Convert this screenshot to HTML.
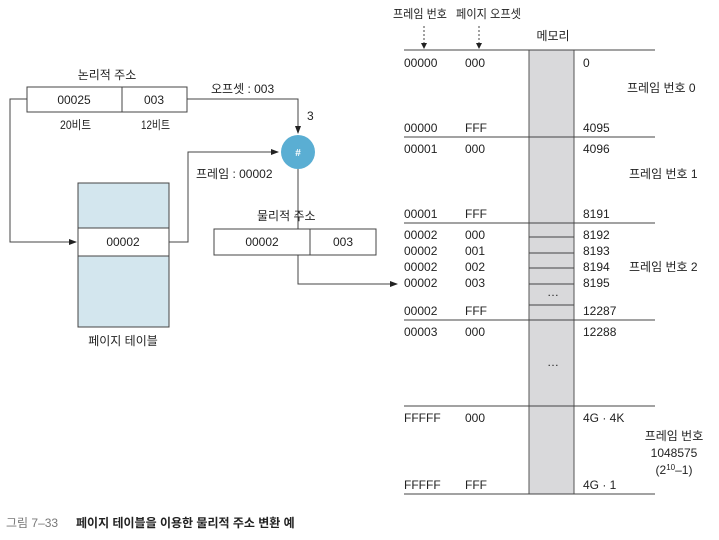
<!DOCTYPE html>
<html><head><meta charset="utf-8"><style>
body{margin:0;background:#fff}
text{font-family:"Liberation Sans","Noto Sans CJK KR",sans-serif;fill:#222;font-size:12px}
</style></head><body>
<svg width="719" height="535" viewBox="0 0 719 535" xmlns="http://www.w3.org/2000/svg">
<defs><marker id="a" markerWidth="8" markerHeight="8" refX="7" refY="4" orient="auto" markerUnits="userSpaceOnUse"><path d="M0,1 L8,4 L0,7 Z" fill="#222"/></marker>
<marker id="s" markerWidth="6" markerHeight="6" refX="5" refY="3" orient="auto" markerUnits="userSpaceOnUse"><path d="M0,0 L6,3 L0,6 Z" fill="#222"/></marker></defs>
<g stroke="#444" stroke-width="1" fill="none">
<rect x="27" y="87" width="160" height="25" fill="#fff"/>
<line x1="122" y1="87" x2="122" y2="112"/>
<rect x="78" y="183" width="91" height="144" fill="#d3e6ee"/>
<rect x="78" y="228" width="91" height="28" fill="#fff"/>
<rect x="214" y="229" width="162" height="26" fill="#fff"/>
<line x1="310" y1="229" x2="310" y2="255"/>
<polyline points="27,99 10,99 10,242 76,242" marker-end="url(#a)"/>
<polyline points="169,242 188,242 188,152 278,152" marker-end="url(#a)"/>
<polyline points="187,99 298,99 298,133" marker-end="url(#a)"/>
<line x1="298" y1="169" x2="298" y2="229"/>
<polyline points="298,255 298,284 397,284" marker-end="url(#a)"/>
<line x1="424" y1="26" x2="424" y2="48" stroke-dasharray="2,2" marker-end="url(#s)"/>
<line x1="479" y1="26" x2="479" y2="48" stroke-dasharray="2,2" marker-end="url(#s)"/>
</g>
<circle cx="298" cy="152" r="17" fill="#5aaed3"/>
<text x="298" y="156" text-anchor="middle" style="fill:#fff;font-size:10px;font-weight:bold">#</text>
<rect x="529" y="50" width="45" height="444" fill="#d9d9db" stroke="#555"/>
<g stroke="#444">
<line x1="404" y1="50" x2="655" y2="50"/>
<line x1="404" y1="137" x2="655" y2="137"/>
<line x1="404" y1="223" x2="655" y2="223"/>
<line x1="404" y1="320" x2="655" y2="320"/>
<line x1="404" y1="406" x2="655" y2="406"/>
<line x1="404" y1="494" x2="655" y2="494"/>
<line x1="529" y1="237" x2="574" y2="237"/>
<line x1="529" y1="253" x2="574" y2="253"/>
<line x1="529" y1="268" x2="574" y2="268"/>
<line x1="529" y1="284" x2="574" y2="284"/>
<line x1="529" y1="305" x2="574" y2="305"/>
</g>
<text x="553" y="296" text-anchor="middle" font-size="10">…</text>
<text x="553" y="366" text-anchor="middle" font-size="10">…</text>
<text x="107" y="79" text-anchor="middle">논리적 주소</text>
<text x="74" y="104" text-anchor="middle">00025</text>
<text x="154" y="104" text-anchor="middle">003</text>
<text x="60" y="129" font-size="10" textLength="31" lengthAdjust="spacingAndGlyphs">20비트</text>
<text x="141" y="129" font-size="10" textLength="29" lengthAdjust="spacingAndGlyphs">12비트</text>
<text x="211" y="93">오프셋 : 003</text>
<text x="307" y="120">3</text>
<text x="196" y="178">프레임 : 00002</text>
<text x="257" y="220">물리적  주소</text>
<text x="262" y="246" text-anchor="middle">00002</text>
<text x="343" y="246" text-anchor="middle">003</text>
<text x="123" y="246" text-anchor="middle">00002</text>
<text x="123" y="345" text-anchor="middle">페이지 테이블</text>
<text x="393" y="18" font-size="10" textLength="54" lengthAdjust="spacingAndGlyphs">프레임 번호</text>
<text x="456" y="18" font-size="10" textLength="65" lengthAdjust="spacingAndGlyphs">페이지 오프셋</text>
<text x="553" y="40" text-anchor="middle">메모리</text>
<g>
<text x="404" y="67">00000</text><text x="465" y="67">000</text><text x="583" y="67">0</text>
<text x="404" y="132">00000</text><text x="465" y="132">FFF</text><text x="583" y="132">4095</text>
<text x="404" y="153">00001</text><text x="465" y="153">000</text><text x="583" y="153">4096</text>
<text x="404" y="218">00001</text><text x="465" y="218">FFF</text><text x="583" y="218">8191</text>
<text x="404" y="239">00002</text><text x="465" y="239">000</text><text x="583" y="239">8192</text>
<text x="404" y="255">00002</text><text x="465" y="255">001</text><text x="583" y="255">8193</text>
<text x="404" y="271">00002</text><text x="465" y="271">002</text><text x="583" y="271">8194</text>
<text x="404" y="287">00002</text><text x="465" y="287">003</text><text x="583" y="287">8195</text>
<text x="404" y="315">00002</text><text x="465" y="315">FFF</text><text x="583" y="315">12287</text>
<text x="404" y="336">00003</text><text x="465" y="336">000</text><text x="583" y="336">12288</text>
<text x="404" y="422">FFFFF</text><text x="465" y="422">000</text><text x="583" y="422">4G · 4K</text>
<text x="404" y="489">FFFFF</text><text x="465" y="489">FFF</text><text x="583" y="489">4G · 1</text>
</g>
<text x="627" y="92">프레임 번호 0</text>
<text x="629" y="178">프레임 번호 1</text>
<text x="629" y="271">프레임 번호 2</text>
<text x="674" y="440" text-anchor="middle">프레임 번호</text>
<text x="674" y="457" text-anchor="middle">1048575</text>
<text x="674" y="474" text-anchor="middle">(2<tspan font-size="8" dy="-4">10</tspan><tspan dy="4">–1)</tspan></text>
<text x="6" y="527" style="fill:#777">그림 7–33</text>
<text x="76" y="527" style="font-weight:bold">페이지 테이블을 이용한 물리적 주소 변환 예</text>
</svg>
</body></html>
